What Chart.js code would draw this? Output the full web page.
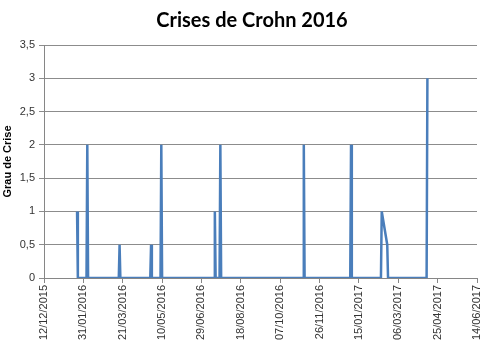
<!DOCTYPE html>
<html>
<head>
<meta charset="utf-8">
<script src="https://cdn.jsdelivr.net/npm/chart.js@4"></script>
<style>
  html, body { margin: 0; padding: 0; background: #fff; }
  #wrap { width: 500px; height: 354px; }
</style>
</head>
<body>
<div id="wrap"><canvas id="crohnChart"></canvas></div>
<script>
// dados das crises (data, grau)
const crisisDates = [
    "2016-01-23", "2016-01-24",
    "2016-02-04", "2016-02-05", "2016-02-06",
    "2016-03-16", "2016-03-17", "2016-03-18",
    "2016-04-25", "2016-04-26", "2016-04-27",
    "2016-05-08", "2016-05-09", "2016-05-10",
    "2016-07-15", "2016-07-16", "2016-07-17",
    "2016-07-22", "2016-07-23", "2016-07-24",
    "2016-11-05", "2016-11-06", "2016-11-07",
    "2017-01-04", "2017-01-05", "2017-01-06",
    "2017-02-12", "2017-02-13", "2017-02-20", "2017-02-21",
    "2017-04-11", "2017-04-12"
];
const crisisLevels = [
    1, 0,
    0, 2, 0,
    0, 0.5, 0,
    0, 0.5, 0,
    0, 2, 0,
    0, 1, 0,
    0, 2, 0,
    0, 2, 0,
    0, 2, 0,
    0, 1, 0.5, 0,
    0, 3
];

const axisStart = "2015-12-12";
const axisEnd = "2017-06-14";
const tickStepDays = 50;
const yTicks = [0, 0.5, 1, 1.5, 2, 2.5, 3, 3.5];

const DAY = 86400000;
function toUtc(s) {
    const p = s.split("-").map(Number);
    return Date.UTC(p[0], p[1] - 1, p[2]);
}
const startMs = toUtc(axisStart);
const dayIndex = s => (toUtc(s) - startMs) / DAY;

function fmtDate(days) {
    const d = new Date(startMs + days * DAY);
    const dd = String(d.getUTCDate()).padStart(2, "0");
    const mm = String(d.getUTCMonth() + 1).padStart(2, "0");
    return `${dd}/${mm}/${d.getUTCFullYear()}`;
}

const points = crisisDates.map((s, i) => ({ x: dayIndex(s), y: crisisLevels[i] }));

// centra o título na largura toda do canvas (como no Excel)
const titleCenter = {
    id: "titleCenter",
    afterLayout(chart) {
        if (chart.titleBlock) {
            chart.titleBlock.left = 4;
            chart.titleBlock.right = chart.width;
        }
    }
};

const ctx = document.getElementById("crohnChart").getContext("2d");
new Chart(ctx, {
    type: "line",
    data: {
        datasets: [{
            label: "Grau de Crise",
            data: points,
            borderColor: "#4a7ebb",
            borderWidth: 2.5,
            pointRadius: 0,
            tension: 0,
            fill: false
        }]
    },
    options: {
        responsive: true,
        maintainAspectRatio: false,
        animation: false,
        layout: { padding: { left: 0, right: 23, top: 1, bottom: 0 } },
        plugins: {
            legend: { display: false },
            tooltip: { enabled: false },
            title: {
                display: true,
                text: "Crises de Crohn 2016",
                color: "#000",
                font: { family: "Lato", size: 20, weight: "bold" },
                padding: { top: 8, bottom: 12 }
            }
        },
        scales: {
            x: {
                type: "linear",
                min: 0,
                max: dayIndex(axisEnd),
                afterBuildTicks: scale => {
                    const t = [];
                    for (let v = 0; v <= dayIndex(axisEnd); v += tickStepDays) t.push({ value: v });
                    scale.ticks = t;
                },
                afterFit: scale => { scale.height = 76; },
                ticks: {
                    minRotation: 90,
                    maxRotation: 90,
                    autoSkip: false,
                    color: "#333",
                    font: { family: "Liberation Sans", size: 11 },
                    padding: 2,
                    callback: v => fmtDate(v)
                },
                grid: {
                    drawOnChartArea: false,
                    drawTicks: true,
                    tickLength: 5,
                    color: "#868686"
                },
                border: { color: "#868686", width: 1 }
            },
            y: {
                min: 0,
                max: 3.5,
                afterBuildTicks: scale => { scale.ticks = yTicks.map(v => ({ value: v })); },
                afterFit: scale => { scale.width = 44; },
                ticks: {
                    color: "#333",
                    font: { family: "Liberation Sans", size: 11 },
                    padding: 4,
                    callback: v => String(v).replace(".", ",")
                },
                grid: {
                    color: "#8c8c8c",
                    lineWidth: 1,
                    tickLength: 5
                },
                border: { color: "#868686", width: 1 },
                title: {
                    display: true,
                    text: "Grau de Crise",
                    color: "#000",
                    font: { family: "Liberation Sans", size: 11, weight: "bold" },
                    padding: { top: 1, bottom: 0 }
                }
            }
        }
    },
    plugins: [titleCenter]
});
</script>
</body>
</html>
